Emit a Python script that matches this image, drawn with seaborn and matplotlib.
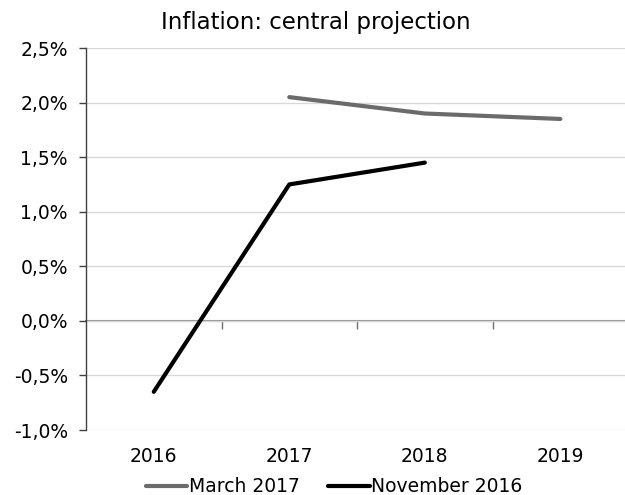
import pandas as pd
import seaborn as sns
import matplotlib.pyplot as plt
from matplotlib.ticker import FuncFormatter

years = [2016, 2017, 2018, 2019]
march_2017 = [None, 2.05, 1.90, 1.85]
november_2016 = [-0.65, 1.25, 1.45, None]
series_names = ["March 2017", "November 2016"]
y_ticks = [-1.0, -0.5, 0.0, 0.5, 1.0, 1.5, 2.0, 2.5]

rows = []
for name, vals in zip(series_names, [march_2017, november_2016]):
    for yr, v in zip(years, vals):
        if v is not None:
            rows.append({"Year": yr, "Inflation": v, "Series": name})
df = pd.DataFrame(rows)

sns.set_style("white")
plt.rcParams['font.family'] = ['DejaVu Sans']
plt.rcParams['text.color'] = 'black'
plt.rcParams['xtick.color'] = 'black'
plt.rcParams['ytick.color'] = 'black'

fig = plt.figure(figsize=(6.25, 4.95), dpi=100)
ax = fig.add_axes([0.1376, 0.1313, 0.8674, 0.7717])

ax.yaxis.grid(True, color="#d9d9d9", linewidth=1)
ax.set_axisbelow(True)

sns.lineplot(data=df, x="Year", y="Inflation", hue="Series",
             palette={"March 2017": "#6b6b6b", "November 2016": "#000000"},
             linewidth=3, ax=ax, legend=False)

ax.set_xlim(2015.5, 2019.5)
ax.set_ylim(-1.0, 2.5)
ax.set_yticks(y_ticks)
ax.yaxis.set_major_formatter(FuncFormatter(lambda v, p: f"{v:.1f}%".replace(".", ",")))
ax.set_xticks(years)
ax.tick_params(axis="x", length=0, labelsize=13.5, pad=12, labelcolor="black")
ax.tick_params(axis="y", length=5, width=1, color="#404040", labelsize=13.5,
               left=True, pad=8, labelcolor="black")
ax.set_xlabel("")
ax.set_ylabel("")

for s in ["top", "right", "bottom"]:
    ax.spines[s].set_visible(False)
ax.spines["left"].set_color("#404040")
ax.spines["left"].set_linewidth(1)

# zero axis line with category boundary ticks
zero_frac = (0 - (-1.0)) / (2.5 - (-1.0))
sec = ax.secondary_xaxis(zero_frac)
sec.set_xticks([2016.5, 2017.5, 2018.5])
sec.set_xticklabels([])
sec.tick_params(axis="x", direction="out", length=6, width=1, color="#707070")
sec.spines["bottom"].set_color("#8c8c8c")
sec.spines["bottom"].set_linewidth(1.5)

fig.suptitle("Inflation: central projection", fontsize=16.5, y=0.978, x=0.505)

handles = [plt.Line2D([], [], color="#6b6b6b", linewidth=3),
           plt.Line2D([], [], color="#000000", linewidth=3)]
fig.legend(handles, series_names, loc="center", bbox_to_anchor=(0.535, 0.017),
           ncol=2, frameon=False, fontsize=13.5, handlelength=2.2,
           handletextpad=0.1, columnspacing=1.5)

fig.savefig("out.png", dpi=100)
